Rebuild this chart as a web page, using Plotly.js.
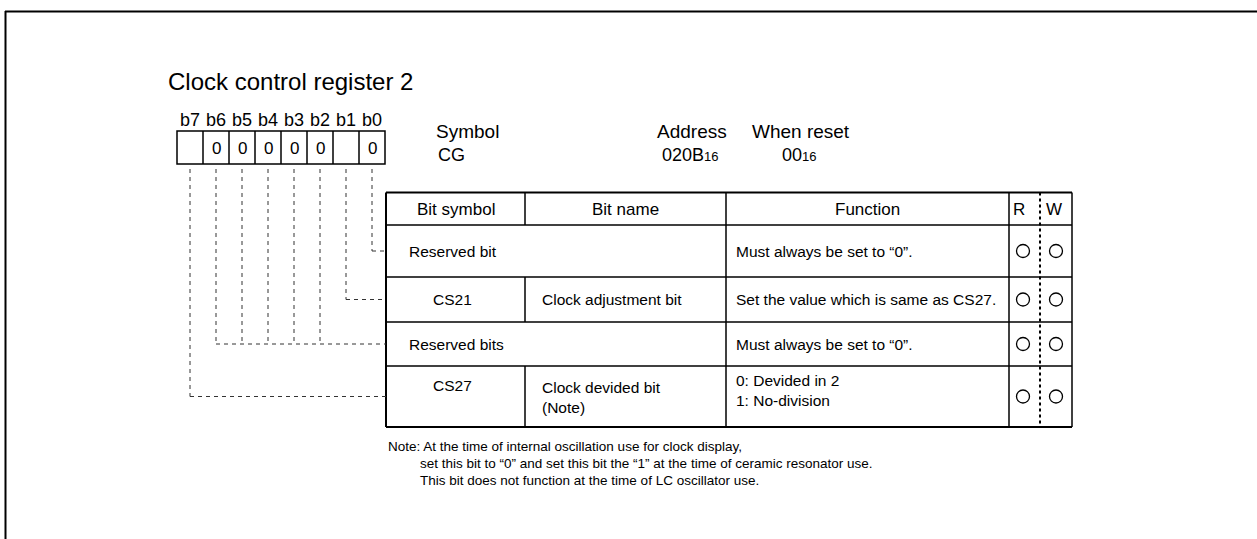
<!DOCTYPE html>
<html>
<head>
<meta charset="utf-8">
<script src="https://cdn.plot.ly/plotly-3.0.1.min.js"></script>
<style>html,body{margin:0;padding:0;background:#fff;}#chart{width:1257px;height:539px;}</style>
</head>
<body>
<div id="chart"></div>
<script>
// ---- data ----
const registerTitle = 'Clock control register 2';
const bitLabels = ['b7', 'b6', 'b5', 'b4', 'b3', 'b2', 'b1', 'b0'];
const resetBits = ['', '0', '0', '0', '0', '0', '', '0'];
const headerLabels = ['Symbol', 'Address', 'When reset'];
const headerValues = ['CG', '020B<span style="font-size:13px">16</span>', '00<span style="font-size:13px">16</span>'];
const columnTitles = ['Bit symbol', 'Bit name', 'Function', 'R', 'W'];
const rowSymbols = ['Reserved bit', 'CS21', 'Reserved bits', 'CS27'];
const rowNames = ['', 'Clock adjustment bit', '', 'Clock devided bit<br>(Note)'];
const rowFunctions = ['Must always be set to “0”.', 'Set the value which is same as CS27.', 'Must always be set to “0”.', '0: Devided in 2<br>1: No-division'];
const rowBits = [['b0'], ['b1'], ['b2', 'b3', 'b4', 'b5', 'b6'], ['b7']];
const rowRead = [true, true, true, true];
const rowWrite = [true, true, true, true];
const noteLines = ['Note: At the time of internal oscillation use for clock display,',
  'set this bit to “0” and set this bit the “1” at the time of ceramic resonator use.',
  'This bit does not function at the time of LC oscillator use.'];

// ---- layout geometry ----
const W = 1257, H = 539;
const FONT = 'Liberation Sans, Arial, sans-serif';
const boxLeft = 177, boxW = 26, boxTop = 131, boxBot = 164;
const colX = [386, 525, 726, 1009, 1072];
const rwDiv = 1040;
const rowY = [192.5, 225, 277, 322, 366, 427];
const rCx = 1023, wCx = 1056;
const rowFont = 15.5;

const shapes = [];
const annotations = [];
function line(x0, y0, x1, y1, w, color, dash) {
  shapes.push({type: 'line', xref: 'x', yref: 'y', x0, y0, x1, y1,
    line: {width: w, color: color || '#000', dash: dash || 'solid'}});
}
function text(t, x, y, size, xanchor, extra) {
  annotations.push(Object.assign({text: t, x, y, xref: 'x', yref: 'y', showarrow: false,
    xanchor: xanchor || 'center', yanchor: 'middle', align: xanchor === 'left' ? 'left' : 'center',
    font: {family: FONT, size: size, color: '#000'}}, extra || {}));
}

// outer frame (top & left)
line(5, 11.5, W, 11.5, 2);
line(5.5, 11, 5.5, H, 2);

// title
text(registerTitle, 166, 81, 24, 'left');

// register boxes
bitLabels.forEach((b, i) => {
  const cx = boxLeft + boxW * (i + 0.5);
  text(b, cx, 120, 18);
  if (resetBits[i]) text(resetBits[i], cx, 148, 17);
});
shapes.push({type: 'rect', x0: boxLeft, x1: boxLeft + boxW * 8, y0: boxTop, y1: boxBot, line: {width: 1.5, color: '#000'}});
for (let i = 1; i < 8; i++) line(boxLeft + boxW * i, boxTop, boxLeft + boxW * i, boxBot, 1.5);

// header info
const hdrX = [467, 692, 801];
const hdrValX = [451, 690, 799];
headerLabels.forEach((h, i) => {
  text(h, hdrX[i], 131, 19);
  text(headerValues[i], hdrValX[i], 155, 18);
});

// table grid
line(colX[0], rowY[0], colX[4], rowY[0], 2);
line(colX[0], rowY[5], colX[4], rowY[5], 2);
line(colX[0], rowY[0], colX[0], rowY[5], 2);
line(colX[4], rowY[0], colX[4], rowY[5], 1.5);
for (let r = 1; r < 5; r++) line(colX[0], rowY[r], colX[4], rowY[r], 1.5);
line(colX[3], rowY[0], colX[3], rowY[5], 1.5);
line(colX[2], rowY[0], colX[2], rowY[5], 1.5);
line(colX[1], rowY[0], colX[1], rowY[1], 1.5);
rowSymbols.forEach((s, r) => {
  if (rowNames[r]) line(colX[1], rowY[r + 1], colX[1], rowY[r + 2], 1.5);
});
line(rwDiv, rowY[0], rwDiv, rowY[5], 2, '#000', '3px,3px');

// column titles
text(columnTitles[0], (colX[0] + colX[1]) / 2, 209, 17);
text(columnTitles[1], (colX[1] + colX[2]) / 2, 209, 17);
text(columnTitles[2], (colX[2] + colX[3]) / 2, 209, 17);
text(columnTitles[3], 1019, 209, 17);
text(columnTitles[4], 1054, 209, 17);

// rows
const rowCenters = [];
rowSymbols.forEach((s, r) => {
  const cy = (rowY[r + 1] + rowY[r + 2]) / 2;
  rowCenters.push(cy);
  const two = rowNames[r].includes('<br>');
  if (rowNames[r]) {
    text(s, (colX[0] + colX[1]) / 2 - 3, two ? cy - 11 : cy, rowFont);
    text(rowNames[r], 540, cy + (two ? 1 : 0), rowFont, 'left');
  } else {
    text(s, 407, cy, rowFont, 'left');
  }
  text(rowFunctions[r], 734, cy + (rowFunctions[r].includes('<br>') ? -6 : 0), rowFont, 'left');
});

// leader lines from bits to rows
rowBits.forEach((bits, r) => {
  const cy = rowCenters[r];
  const xs = bits.map(b => boxLeft + boxW * (bitLabels.indexOf(b) + 0.5));
  xs.forEach(x => line(x, boxBot + 5, x, cy, 1, '#333', '4px,4px'));
  line(Math.min(...xs), cy, colX[0], cy, 1, '#333', '4px,4px');
});

// note
text(noteLines[0], 386, 446, 13.5, 'left');
text(noteLines[1], 418, 463, 13.5, 'left');
text(noteLines[2], 418, 480, 13.5, 'left');

// R/W marks as open-circle markers
const markerStyle = {symbol: 'circle-open', size: 13, color: '#000', line: {width: 1.3, color: '#000'}};
const traces = [
  {x: rowCenters.map((c, i) => rowRead[i] ? rCx : null), y: rowCenters, mode: 'markers', type: 'scatter', marker: markerStyle, hoverinfo: 'skip'},
  {x: rowCenters.map((c, i) => rowWrite[i] ? wCx : null), y: rowCenters, mode: 'markers', type: 'scatter', marker: markerStyle, hoverinfo: 'skip'}
];

const layout = {
  width: W, height: H, margin: {l: 0, r: 0, t: 0, b: 0},
  paper_bgcolor: '#fff', plot_bgcolor: '#fff', showlegend: false,
  xaxis: {range: [0, W], visible: false, fixedrange: true},
  yaxis: {range: [H, 0], visible: false, fixedrange: true},
  shapes, annotations
};
Plotly.newPlot('chart', traces, layout, {staticPlot: true, displayModeBar: false});
</script>
</body>
</html>
